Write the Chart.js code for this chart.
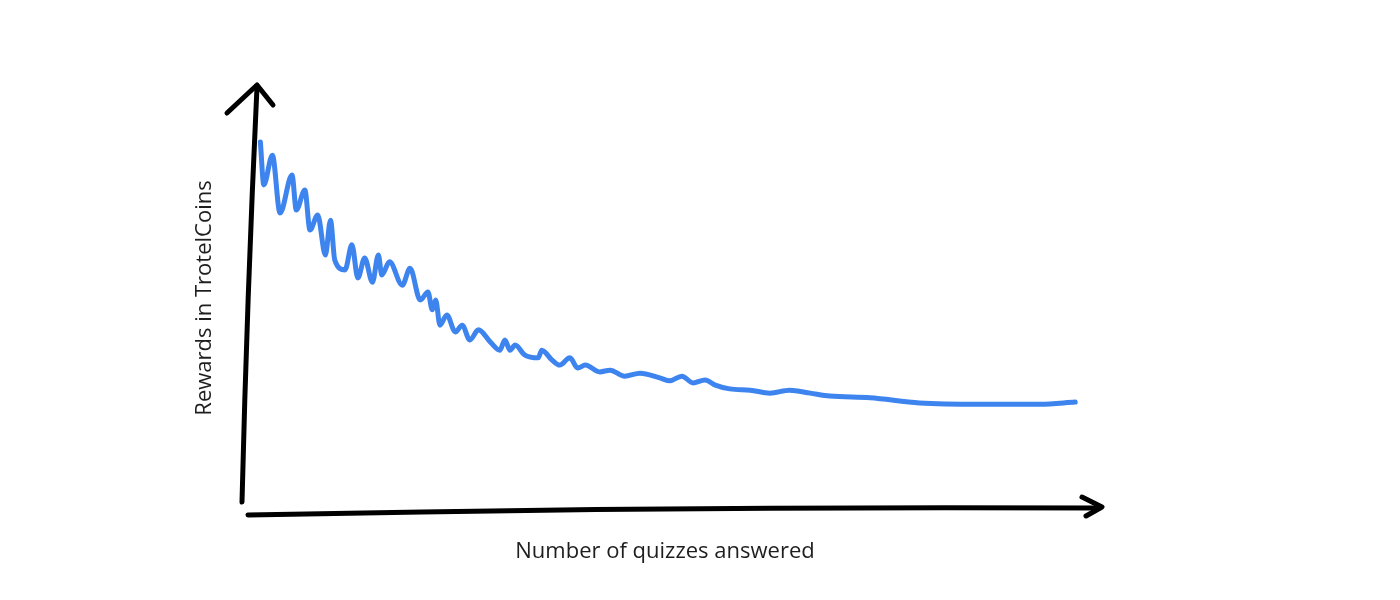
<!DOCTYPE html>
<html>
<head>
<meta charset="utf-8">
<script src="https://cdn.jsdelivr.net/npm/chart.js@4/dist/chart.umd.min.js"></script>
<style>
  html, body { margin: 0; padding: 0; background: #fff; }
  #wrap { width: 1400px; height: 600px; }
</style>
</head>
<body>
<div id="wrap"><canvas id="chart"></canvas></div>
<script>
// quizzes answered (x) and rewards (y)
var quizzes = [1.8,2.2,3.2,4.1,5.5,6.0,7.0,7.6,8.5,9.4,10.0,10.5,11.7,12.5,13.2,14.0,14.9,15.6,16.0,16.9,
  18.4,19.3,20.5,21.4,21.9,22.3,22.8,23.6,24.6,25.4,26.3,27.3,28.7,29.8,30.4,31.0,31.6,32.7,34.3,34.7,
  35.9,36.8,38.0,38.9,39.8,41.5,42.7,44.4,46.2,48.5,49.7,51.1,52.4,53.8,55.0,56.7,59.1,61.4,63.7,66.1,
  68.4,73.1,78.9,86.0,93.0,97.1];
var rewards = [86.6,76.5,83.5,69.9,78.8,70.6,75.3,65.9,69.4,60.0,68.2,58.8,56.5,62.4,54.6,59.3,53.6,60.0,55.3,58.4,
  52.9,56.9,49.4,51.3,47.1,49.4,43.5,45.9,41.9,43.5,40.0,42.4,39.5,37.6,40.0,37.6,38.8,36.5,35.8,37.6,
  35.3,34.1,35.8,33.4,34.1,32.5,32.9,31.5,32.2,31.1,30.4,31.5,29.9,30.6,29.4,28.5,28.2,27.5,28.2,27.5,
  26.8,26.4,25.2,24.9,24.9,25.4];
var xTitle = 'Number of quizzes answered';
var yTitle = 'Rewards in TrotelCoins';

var points = quizzes.map(function (q, i) { return { x: q, y: rewards[i] }; });

// hand drawn looking axes with arrow heads
var sketchAxes = {
  id: 'sketchAxes',
  afterDraw: function (chart) {
    var ctx = chart.ctx;
    var a = chart.chartArea;
    ctx.save();
    ctx.strokeStyle = '#000';
    ctx.lineWidth = 5;
    ctx.lineCap = 'round';
    ctx.lineJoin = 'round';
    // y axis
    ctx.beginPath();
    ctx.moveTo(a.left - 3, a.bottom - 8);
    ctx.quadraticCurveTo(a.left + 2, (a.top + a.bottom) / 2, a.left + 12, a.top + 2);
    ctx.stroke();
    ctx.beginPath();
    ctx.moveTo(a.left - 18, a.top + 28);
    ctx.lineTo(a.left + 12, a.top);
    ctx.lineTo(a.left + 28, a.top + 20);
    ctx.stroke();
    // x axis
    ctx.beginPath();
    ctx.moveTo(a.left + 3, a.bottom + 5);
    ctx.quadraticCurveTo((a.left + a.right) / 2, a.bottom - 4, a.right, a.bottom - 2);
    ctx.stroke();
    ctx.beginPath();
    ctx.moveTo(a.right - 18, a.bottom - 13);
    ctx.lineTo(a.right + 2, a.bottom - 3);
    ctx.lineTo(a.right - 14, a.bottom + 6);
    ctx.stroke();
    // titles
    ctx.fillStyle = '#1e1e1e';
    ctx.font = '22px "Open Sans"';
    ctx.textAlign = 'center';
    ctx.textBaseline = 'middle';
    ctx.fillText(xTitle, 665, 552);
    ctx.translate(205, 298);
    ctx.rotate(-Math.PI / 2);
    ctx.fillText(yTitle, 0, 0);
    ctx.restore();
  }
};

new Chart(document.getElementById('chart'), {
  type: 'line',
  data: {
    datasets: [{
      data: points,
      borderColor: '#3d84ef',
      borderWidth: 5,
      pointRadius: 0,
      tension: 0.4,
      cubicInterpolationMode: 'monotone',
      borderCapStyle: 'round',
      fill: false
    }]
  },
  options: {
    responsive: true,
    maintainAspectRatio: false,
    animation: false,
    layout: { padding: { left: 245, right: 300, top: 85, bottom: 90 } },
    plugins: { legend: { display: false }, tooltip: { enabled: false } },
    scales: {
      x: { type: 'linear', min: 0, max: 100, display: false },
      y: { min: 0, max: 100, display: false }
    }
  },
  plugins: [sketchAxes]
});
</script>
</body>
</html>
